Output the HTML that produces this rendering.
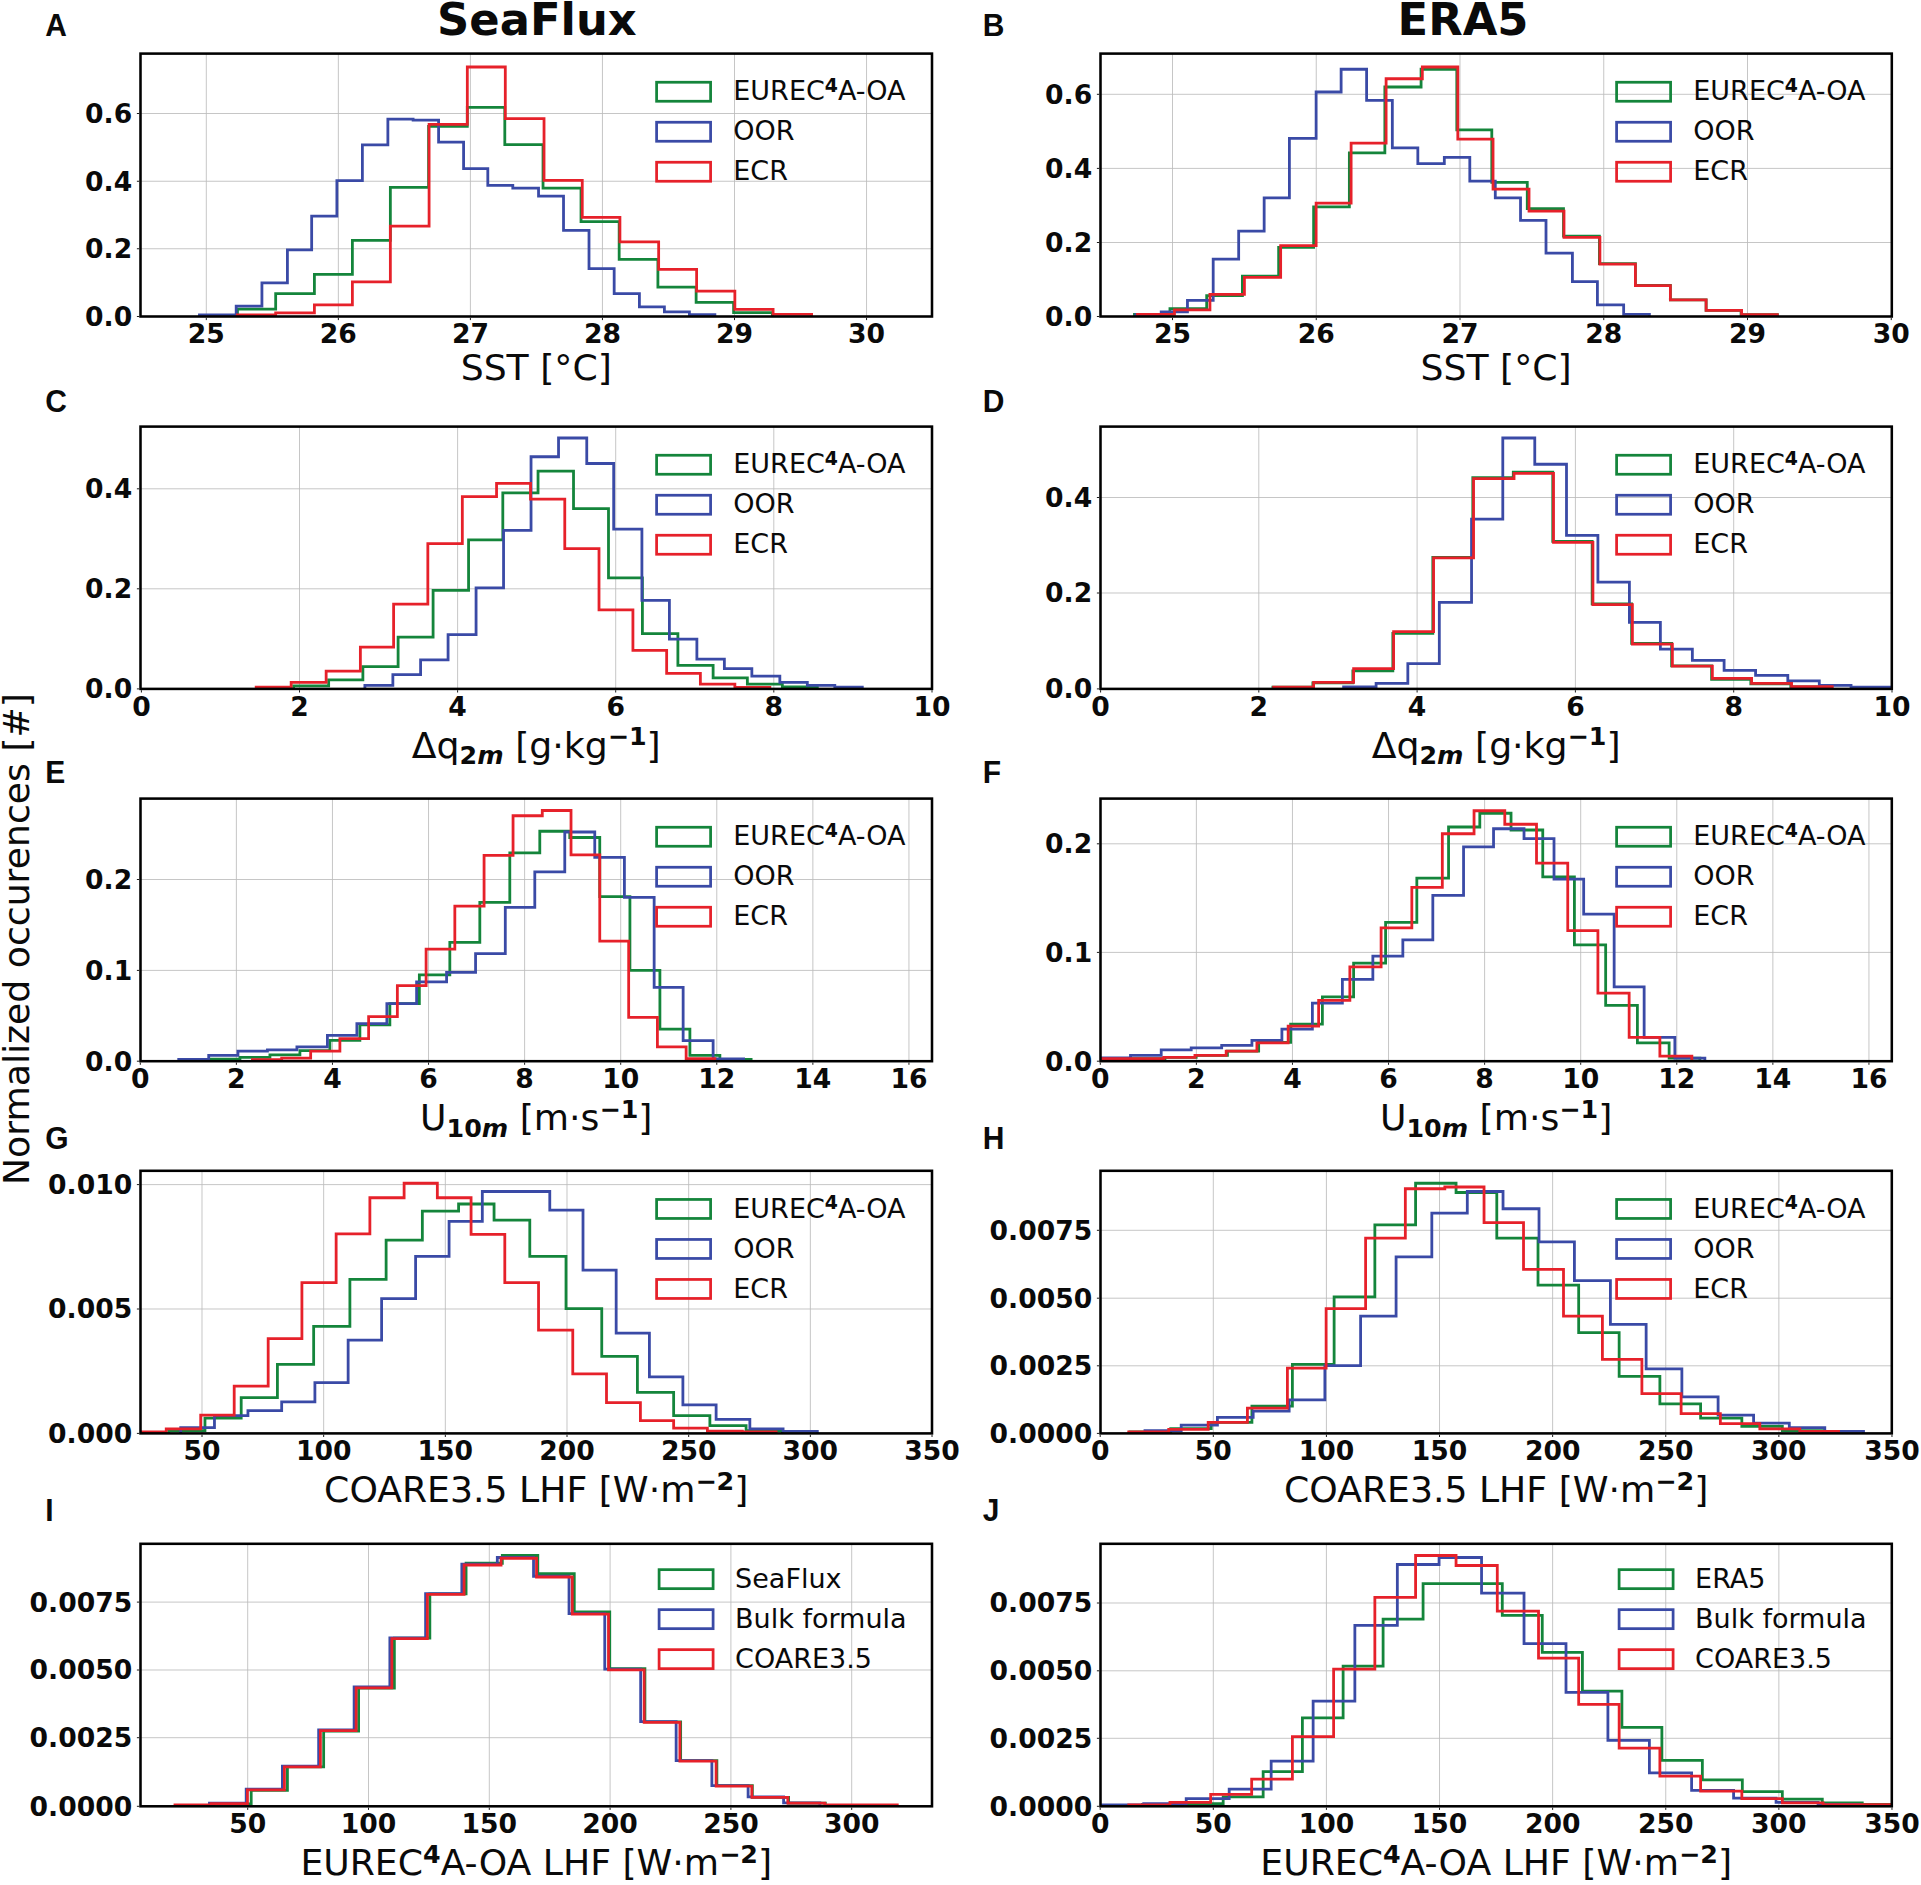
<!DOCTYPE html>
<html lang="en"><head><meta charset="utf-8"><title>Histograms of SST, humidity, wind and LHF: SeaFlux vs ERA5</title>
<style>
html,body{margin:0;padding:0;background:#fff;}
body{width:1921px;height:1885px;overflow:hidden;}
svg{display:block;}
.tk{font-family:"DejaVu Sans","Liberation Sans",sans-serif;font-weight:bold;font-size:26.6px;fill:#0a0a0a;}
.lg{font-family:"DejaVu Sans","Liberation Sans",sans-serif;font-size:27px;fill:#0a0a0a;}
.xl{font-family:"DejaVu Sans","Liberation Sans",sans-serif;font-size:36.2px;fill:#0a0a0a;}
.tt{font-family:"DejaVu Sans","Liberation Sans",sans-serif;font-weight:bold;font-size:44.8px;fill:#0a0a0a;}
.pl{font-family:"Liberation Sans",sans-serif;font-weight:bold;font-size:30px;fill:#0a0a0a;}
.sb{font-weight:bold;font-size:70%;}
.sbi{font-weight:bold;font-style:italic;font-size:70%;}
.gr{stroke:#bcbcbc;stroke-width:0.85;fill:none;}
.tm{stroke:#1a1a1a;stroke-width:1;fill:none;}
.sp{stroke:#000;stroke-width:2.55;fill:none;}
.h{fill:none;stroke-width:2.8;stroke-linejoin:miter;}
</style></head><body>
<svg width="1921" height="1885" viewBox="0 0 1921 1885">
<rect x="0" y="0" width="1921" height="1885" fill="#ffffff"/>
<g id="panel-A">
<clipPath id="cA"><rect x="140.5" y="53.6" width="791.5" height="262.9"/></clipPath>
<path class="gr" d="M206.3 53.6V316.5M338.35 53.6V316.5M470.4 53.6V316.5M602.45 53.6V316.5M734.5 53.6V316.5M866.55 53.6V316.5M140.5 248.75H932M140.5 181.25H932M140.5 113.5H932"/>
<g clip-path="url(#cA)">
<path class="h" stroke="#14853b" d="M237.44 316.5V309.11H275.67V293.62H314.4V274.38H352.38V240.4H390.36V187.43H428.59V126.46H467.32V107.47H504.8V144.7H543.03V188.18H581.02V221.66H619.17V259.39H657.9V287.12H696.13V302.37H733.61V312.61H772.34V316.5"/>
<path class="h" stroke="#3a4aa6" d="M199.46 316.5V314.86H236.19V306.11H261.93V282.88H287.42V249.89H311.66V216.16H336.89V180.68H362.38V144.95H387.87V119.21H413.1V120.21H438.59V142.2H463.58V168.69H487.81V185.43H512.8V188.18H538.54V196.17H563.52V230.4H589.01V268.63H614.17V293.62H639.41V306.86H664.4V311.86H689.39V314.61H714.87V316.5"/>
<path class="h" stroke="#e6212a" d="M237.44 316.5V314.86H275.67V312.86H314.4V304.86H352.38V281.88H390.36V226.16H429.09V124.46H467.32V66.99H505.3V118.71H544.03V180.43H582.26V217.41H619.92V241.9H658.65V269.38H696.63V291.12H734.86V309.36H773.09V314.36H811.57V316.5"/>
</g>
<rect class="sp" x="140.5" y="53.6" width="791.5" height="262.9"/>
<path class="tm" d="M206.3 317.8v2.3M338.35 317.8v2.3M470.4 317.8v2.3M602.45 317.8v2.3M734.5 317.8v2.3M866.55 317.8v2.3M139.2 316.5h-2.3M139.2 248.75h-2.3M139.2 181.25h-2.3M139.2 113.5h-2.3"/>
<text class="tk" text-anchor="middle" x="206.3" y="343.3">25</text>
<text class="tk" text-anchor="middle" x="338.35" y="343.3">26</text>
<text class="tk" text-anchor="middle" x="470.4" y="343.3">27</text>
<text class="tk" text-anchor="middle" x="602.45" y="343.3">28</text>
<text class="tk" text-anchor="middle" x="734.5" y="343.3">29</text>
<text class="tk" text-anchor="middle" x="866.55" y="343.3">30</text>
<text class="tk" text-anchor="end" x="132.2" y="325.9">0.0</text>
<text class="tk" text-anchor="end" x="132.2" y="258.15">0.2</text>
<text class="tk" text-anchor="end" x="132.2" y="190.65">0.4</text>
<text class="tk" text-anchor="end" x="132.2" y="122.9">0.6</text>
<text class="xl" text-anchor="middle" x="536.25" y="379.5">SST [°C]</text>
<rect x="656.6" y="82.25" width="54" height="19" fill="none" stroke="#14853b" stroke-width="2.75"/>
<text class="lg" x="733.3" y="100.3">EUREC<tspan class="sb" dy="-8.5">4</tspan><tspan dy="8.5">A-OA</tspan></text>
<rect x="656.6" y="122.25" width="54" height="19" fill="none" stroke="#3a4aa6" stroke-width="2.75"/>
<text class="lg" x="733.3" y="140.3">OOR</text>
<rect x="656.6" y="162.25" width="54" height="19" fill="none" stroke="#e6212a" stroke-width="2.75"/>
<text class="lg" x="733.3" y="180.3">ECR</text>
<text class="pl" transform="translate(45.3 35.8) scale(1 1.035)">A</text>
</g>
<g id="panel-B">
<clipPath id="cB"><rect x="1100.5" y="53.6" width="791.3" height="262.9"/></clipPath>
<path class="gr" d="M1172.5 53.6V316.5M1316.25 53.6V316.5M1460 53.6V316.5M1603.75 53.6V316.5M1747.5 53.6V316.5M1100.5 242.5H1891.8M1100.5 168.4H1891.8M1100.5 94.3H1891.8"/>
<g clip-path="url(#cB)">
<path class="h" stroke="#14853b" d="M1134.48 316.5V314.36H1169.96V308.61H1206.69V295.62H1242.42V276.13H1278.65V247.39H1313.63V206.92H1349.36V152.94H1384.85V86.98H1421.08V69.24H1456.81V129.96H1491.79V182.43H1527.27V208.66H1563.5V236.15H1599.41V263.64H1635.39V285.37H1670.37V299.87H1706.11V310.36H1741.09V314.61H1777.32V316.5"/>
<path class="h" stroke="#3a4aa6" d="M1135.73 316.5V314.61H1161.21V311.86H1187.45V300.37H1213.19V259.14H1238.67V231.15H1264.16V197.92H1289.4V138.45H1316.13V91.98H1341.12V69.24H1366.61V100.47H1392.34V147.95H1417.83V163.69H1444.32V157.44H1469.8V181.18H1495.29V197.92H1520.53V220.41H1546.01V253.14H1572.43V281.63H1597.41V304.86H1623.65V314.36H1649.39V316.5"/>
<path class="h" stroke="#e6212a" d="M1137.48 316.5V314.36H1174.46V309.86H1209.94V294.37H1244.42V277.38H1280.65V245.65H1316.13V203.17H1351.11V143.2H1386.1V78.73H1422.33V66.99H1457.81V139.2H1493.04V189.17H1529.02V211.16H1564V237.4H1599.91V264.14H1635.39V285.62H1670.37V299.87H1706.11V310.36H1741.59V314.61H1777.32V316.5"/>
</g>
<rect class="sp" x="1100.5" y="53.6" width="791.3" height="262.9"/>
<path class="tm" d="M1172.5 317.8v2.3M1316.25 317.8v2.3M1460 317.8v2.3M1603.75 317.8v2.3M1747.5 317.8v2.3M1891.25 317.8v2.3M1099.2 316.5h-2.3M1099.2 242.5h-2.3M1099.2 168.4h-2.3M1099.2 94.3h-2.3"/>
<text class="tk" text-anchor="middle" x="1172.5" y="343.3">25</text>
<text class="tk" text-anchor="middle" x="1316.25" y="343.3">26</text>
<text class="tk" text-anchor="middle" x="1460" y="343.3">27</text>
<text class="tk" text-anchor="middle" x="1603.75" y="343.3">28</text>
<text class="tk" text-anchor="middle" x="1747.5" y="343.3">29</text>
<text class="tk" text-anchor="middle" x="1891.25" y="343.3">30</text>
<text class="tk" text-anchor="end" x="1092.2" y="325.9">0.0</text>
<text class="tk" text-anchor="end" x="1092.2" y="251.9">0.2</text>
<text class="tk" text-anchor="end" x="1092.2" y="177.8">0.4</text>
<text class="tk" text-anchor="end" x="1092.2" y="103.7">0.6</text>
<text class="xl" text-anchor="middle" x="1496.15" y="379.5">SST [°C]</text>
<rect x="1616.6" y="82.25" width="54" height="19" fill="none" stroke="#14853b" stroke-width="2.75"/>
<text class="lg" x="1693.3" y="100.3">EUREC<tspan class="sb" dy="-8.5">4</tspan><tspan dy="8.5">A-OA</tspan></text>
<rect x="1616.6" y="122.25" width="54" height="19" fill="none" stroke="#3a4aa6" stroke-width="2.75"/>
<text class="lg" x="1693.3" y="140.3">OOR</text>
<rect x="1616.6" y="162.25" width="54" height="19" fill="none" stroke="#e6212a" stroke-width="2.75"/>
<text class="lg" x="1693.3" y="180.3">ECR</text>
<text class="pl" transform="translate(982.7 35.8) scale(1 1.035)">B</text>
</g>
<g id="panel-C">
<clipPath id="cC"><rect x="140.5" y="426.6" width="791.5" height="262.3"/></clipPath>
<path class="gr" d="M299.5 426.6V688.9M457.6 426.6V688.9M615.7 426.6V688.9M773.8 426.6V688.9M140.5 588.8H932M140.5 488.8H932"/>
<g clip-path="url(#cC)">
<path class="h" stroke="#14853b" d="M293.66 688.9V685.86H328.65V679.86H362.88V666.62H398.11V637.14H433.09V590.41H468.57V539.94H502.81V492.96H538.04V471.22H573.52V508.7H608.5V577.92H642.41V633.64H677.89V665.37H713.12V677.86H747.36V684.11H782.34V686.86H817.32V688.9"/>
<path class="h" stroke="#3a4aa6" d="M364.88 688.9V685.36H392.86V674.62H420.6V659.87H448.08V634.64H476.07V587.91H503.56V530.44H531.04V456.73H558.53V437.99H586.76V463.48H613.68V529.19H641.91V600.4H669.4V639.13H696.88V659.12H724.37V668.62H751.85V676.12H779.84V682.36H807.32V685.36H834.81V687.11H862.3V688.9"/>
<path class="h" stroke="#e6212a" d="M256.18 688.9V687.11H291.17V682.36H326.15V671.12H360.38V647.13H393.61V604.15H427.84V543.68H462.33V496.71H496.56V483.47H530.54V499.21H564.77V548.68H599.01V609.9H632.92V650.38H666.65V673.37H700.38V684.11H734.86V687.36H769.84V688.9"/>
</g>
<rect class="sp" x="140.5" y="426.6" width="791.5" height="262.3"/>
<path class="tm" d="M141.4 690.2v2.3M299.5 690.2v2.3M457.6 690.2v2.3M615.7 690.2v2.3M773.8 690.2v2.3M932 690.2v2.3M139.2 688.9h-2.3M139.2 588.8h-2.3M139.2 488.8h-2.3"/>
<text class="tk" text-anchor="middle" x="141.4" y="715.7">0</text>
<text class="tk" text-anchor="middle" x="299.5" y="715.7">2</text>
<text class="tk" text-anchor="middle" x="457.6" y="715.7">4</text>
<text class="tk" text-anchor="middle" x="615.7" y="715.7">6</text>
<text class="tk" text-anchor="middle" x="773.8" y="715.7">8</text>
<text class="tk" text-anchor="middle" x="932" y="715.7">10</text>
<text class="tk" text-anchor="end" x="132.2" y="698.3">0.0</text>
<text class="tk" text-anchor="end" x="132.2" y="598.2">0.2</text>
<text class="tk" text-anchor="end" x="132.2" y="498.2">0.4</text>
<text class="xl" text-anchor="middle" x="536.25" y="757.7">Δq<tspan class="sb" dy="6.5">2</tspan><tspan class="sbi">m</tspan><tspan dy="-6.5"> [g·kg</tspan><tspan class="sb" dy="-12.5">−1</tspan><tspan dy="12.5">]</tspan></text>
<rect x="656.6" y="455.25" width="54" height="19" fill="none" stroke="#14853b" stroke-width="2.75"/>
<text class="lg" x="733.3" y="473.3">EUREC<tspan class="sb" dy="-8.5">4</tspan><tspan dy="8.5">A-OA</tspan></text>
<rect x="656.6" y="495.25" width="54" height="19" fill="none" stroke="#3a4aa6" stroke-width="2.75"/>
<text class="lg" x="733.3" y="513.3">OOR</text>
<rect x="656.6" y="535.25" width="54" height="19" fill="none" stroke="#e6212a" stroke-width="2.75"/>
<text class="lg" x="733.3" y="553.3">ECR</text>
<text class="pl" transform="translate(45.3 412.3) scale(1 1.035)">C</text>
</g>
<g id="panel-D">
<clipPath id="cD"><rect x="1100.5" y="426.6" width="791.3" height="262.3"/></clipPath>
<path class="gr" d="M1258.8 426.6V688.9M1417.1 426.6V688.9M1575.4 426.6V688.9M1733.7 426.6V688.9M1100.5 593H1891.8M1100.5 497.5H1891.8"/>
<g clip-path="url(#cD)">
<path class="h" stroke="#14853b" d="M1272.9 688.9V687.11H1312.88V682.86H1352.86V670.87H1392.84V633.39H1432.82V557.43H1472.8V477.72H1513.28V472.22H1552.76V541.44H1592.17V603.9H1631.64V643.38H1671.62V665.87H1711.6V679.36H1750.83V683.86H1790.81V686.86H1831.54V688.9"/>
<path class="h" stroke="#3a4aa6" d="M1343.62 688.9V686.86H1376.1V683.36H1407.83V663.62H1439.32V602.4H1471.55V519.2H1502.79V437.99H1534.77V464.23H1566.5V535.44H1597.91V582.16H1629.4V622.39H1660.38V649.13H1692.36V660.37H1724.1V670.37H1755.58V675.37H1787.81V680.86H1819.3V685.36H1851.03V687.11H1891.76V688.9"/>
<path class="h" stroke="#e6212a" d="M1273.65 688.9V687.11H1313.63V682.36H1353.61V668.62H1393.59V631.64H1433.57V557.93H1473.55V478.72H1514.03V473.47H1553.51V542.44H1592.92V604.65H1632.39V644.13H1672.37V666.12H1712.35V678.36H1751.58V683.36H1791.56V686.61H1832.29V688.9"/>
</g>
<rect class="sp" x="1100.5" y="426.6" width="791.3" height="262.3"/>
<path class="tm" d="M1100.6 690.2v2.3M1258.8 690.2v2.3M1417.1 690.2v2.3M1575.4 690.2v2.3M1733.7 690.2v2.3M1892 690.2v2.3M1099.2 688.9h-2.3M1099.2 593h-2.3M1099.2 497.5h-2.3"/>
<text class="tk" text-anchor="middle" x="1100.6" y="715.7">0</text>
<text class="tk" text-anchor="middle" x="1258.8" y="715.7">2</text>
<text class="tk" text-anchor="middle" x="1417.1" y="715.7">4</text>
<text class="tk" text-anchor="middle" x="1575.4" y="715.7">6</text>
<text class="tk" text-anchor="middle" x="1733.7" y="715.7">8</text>
<text class="tk" text-anchor="middle" x="1892" y="715.7">10</text>
<text class="tk" text-anchor="end" x="1092.2" y="698.3">0.0</text>
<text class="tk" text-anchor="end" x="1092.2" y="602.4">0.2</text>
<text class="tk" text-anchor="end" x="1092.2" y="506.9">0.4</text>
<text class="xl" text-anchor="middle" x="1496.15" y="757.7">Δq<tspan class="sb" dy="6.5">2</tspan><tspan class="sbi">m</tspan><tspan dy="-6.5"> [g·kg</tspan><tspan class="sb" dy="-12.5">−1</tspan><tspan dy="12.5">]</tspan></text>
<rect x="1616.6" y="455.25" width="54" height="19" fill="none" stroke="#14853b" stroke-width="2.75"/>
<text class="lg" x="1693.3" y="473.3">EUREC<tspan class="sb" dy="-8.5">4</tspan><tspan dy="8.5">A-OA</tspan></text>
<rect x="1616.6" y="495.25" width="54" height="19" fill="none" stroke="#3a4aa6" stroke-width="2.75"/>
<text class="lg" x="1693.3" y="513.3">OOR</text>
<rect x="1616.6" y="535.25" width="54" height="19" fill="none" stroke="#e6212a" stroke-width="2.75"/>
<text class="lg" x="1693.3" y="553.3">ECR</text>
<text class="pl" transform="translate(982.7 412.3) scale(1 1.035)">D</text>
</g>
<g id="panel-E">
<clipPath id="cE"><rect x="140.5" y="798.6" width="791.5" height="262.6"/></clipPath>
<path class="gr" d="M236.38 798.6V1061.2M332.46 798.6V1061.2M428.54 798.6V1061.2M524.62 798.6V1061.2M620.7 798.6V1061.2M716.78 798.6V1061.2M812.86 798.6V1061.2M908.94 798.6V1061.2M140.5 970.4H932M140.5 879.5H932"/>
<g clip-path="url(#cE)">
<path class="h" stroke="#14853b" d="M209.96 1061.2V1059.11H239.94V1057.36H269.93V1054.86H299.91V1050.61H329.9V1040.37H359.88V1024.88H389.86V1003.64H419.35V974.9H449.83V942.42H479.82V902.44H509.8V852.97H539.79V831.23H569.77V837.48H599.76V896.69H629.92V970.41H659.9V1029.13H689.89V1055.36H719.87V1059.36H751.1V1061.2"/>
<path class="h" stroke="#3a4aa6" d="M178.72 1061.2V1059.36H208.71V1055.36H237.94V1051.11H267.43V1049.86H296.91V1046.87H327.4V1035.37H356.88V1023.63H386.87V1003.64H416.6V981.9H446.59V972.4H475.57V953.66H505.3V907.44H534.79V871.96H564.77V831.98H594.76V857.46H624.42V897.44H654.15V987.4H683.14V1040.62H713.12V1058.86H743.61V1061.2"/>
<path class="h" stroke="#e6212a" d="M252.44 1061.2V1059.61H281.67V1058.11H310.66V1051.11H339.89V1038.62H368.63V1016.63H397.36V985.65H426.1V949.17H454.83V906.19H484.07V855.47H513.05V815.74H542.29V810.49H571.02V854.97H599.76V941.17H628.67V1017.38H657.4V1046.87H686.14V1058.61H714.87V1061.2"/>
</g>
<rect class="sp" x="140.5" y="798.6" width="791.5" height="262.6"/>
<path class="tm" d="M140.3 1062.5v2.3M236.38 1062.5v2.3M332.46 1062.5v2.3M428.54 1062.5v2.3M524.62 1062.5v2.3M620.7 1062.5v2.3M716.78 1062.5v2.3M812.86 1062.5v2.3M908.94 1062.5v2.3M139.2 1061.2h-2.3M139.2 970.4h-2.3M139.2 879.5h-2.3"/>
<text class="tk" text-anchor="middle" x="140.3" y="1088">0</text>
<text class="tk" text-anchor="middle" x="236.38" y="1088">2</text>
<text class="tk" text-anchor="middle" x="332.46" y="1088">4</text>
<text class="tk" text-anchor="middle" x="428.54" y="1088">6</text>
<text class="tk" text-anchor="middle" x="524.62" y="1088">8</text>
<text class="tk" text-anchor="middle" x="620.7" y="1088">10</text>
<text class="tk" text-anchor="middle" x="716.78" y="1088">12</text>
<text class="tk" text-anchor="middle" x="812.86" y="1088">14</text>
<text class="tk" text-anchor="middle" x="908.94" y="1088">16</text>
<text class="tk" text-anchor="end" x="132.2" y="1070.6">0.0</text>
<text class="tk" text-anchor="end" x="132.2" y="979.8">0.1</text>
<text class="tk" text-anchor="end" x="132.2" y="888.9">0.2</text>
<text class="xl" text-anchor="middle" x="536.25" y="1130">U<tspan class="sb" dy="6.5">10</tspan><tspan class="sbi">m</tspan><tspan dy="-6.5"> [m·s</tspan><tspan class="sb" dy="-12.5">−1</tspan><tspan dy="12.5">]</tspan></text>
<rect x="656.6" y="827.25" width="54" height="19" fill="none" stroke="#14853b" stroke-width="2.75"/>
<text class="lg" x="733.3" y="845.3">EUREC<tspan class="sb" dy="-8.5">4</tspan><tspan dy="8.5">A-OA</tspan></text>
<rect x="656.6" y="867.25" width="54" height="19" fill="none" stroke="#3a4aa6" stroke-width="2.75"/>
<text class="lg" x="733.3" y="885.3">OOR</text>
<rect x="656.6" y="907.25" width="54" height="19" fill="none" stroke="#e6212a" stroke-width="2.75"/>
<text class="lg" x="733.3" y="925.3">ECR</text>
<text class="pl" transform="translate(45.3 782.8) scale(1 1.035)">E</text>
</g>
<g id="panel-F">
<clipPath id="cF"><rect x="1100.5" y="798.6" width="791.3" height="262.6"/></clipPath>
<path class="gr" d="M1196.38 798.6V1061.2M1292.46 798.6V1061.2M1388.54 798.6V1061.2M1484.62 798.6V1061.2M1580.7 798.6V1061.2M1676.78 798.6V1061.2M1772.86 798.6V1061.2M1868.94 798.6V1061.2M1100.5 952.4H1891.8M1100.5 843.8H1891.8"/>
<g clip-path="url(#cF)">
<path class="h" stroke="#14853b" d="M1132.48 1061.2V1058.61H1164.96V1057.36H1196.19V1055.36H1227.43V1051.11H1258.66V1042.37H1290.65V1024.13H1322.38V996.89H1353.61V963.16H1385.6V922.43H1416.83V878.2H1448.56V826.98H1479.8V813.24H1511.03V829.98H1542.76V876.95H1574.42V944.92H1605.66V1005.39H1637.39V1042.87H1669.13V1058.11H1699.86V1061.2"/>
<path class="h" stroke="#3a4aa6" d="M1099.99 1061.2V1057.86H1130.48V1055.36H1161.21V1049.86H1191.2V1047.87H1221.68V1045.37H1251.92V1040.37H1281.9V1029.13H1312.38V1003.14H1342.37V979.4H1372.85V956.16H1402.84V939.92H1432.82V895.45H1463.56V846.97H1493.54V828.73H1524.02V838.72H1554.01V879.2H1583.67V914.19H1614.15V986.9H1644.14V1037.37H1674.87V1058.11H1704.86V1061.2"/>
<path class="h" stroke="#e6212a" d="M1099.99 1061.2V1058.61H1163.71V1057.36H1194.95V1055.36H1226.18V1051.11H1256.91V1042.87H1288.15V1026.13H1318.63V1000.39H1349.86V966.91H1381.1V927.93H1411.83V887.45H1442.32V833.73H1474.05V810.74H1504.78V824.23H1536.52V863.21H1567.75V930.68H1597.91V993.14H1629.15V1037.37H1659.88V1056.11H1691.86V1061.2"/>
</g>
<rect class="sp" x="1100.5" y="798.6" width="791.3" height="262.6"/>
<path class="tm" d="M1100.3 1062.5v2.3M1196.38 1062.5v2.3M1292.46 1062.5v2.3M1388.54 1062.5v2.3M1484.62 1062.5v2.3M1580.7 1062.5v2.3M1676.78 1062.5v2.3M1772.86 1062.5v2.3M1868.94 1062.5v2.3M1099.2 1061.2h-2.3M1099.2 952.4h-2.3M1099.2 843.8h-2.3"/>
<text class="tk" text-anchor="middle" x="1100.3" y="1088">0</text>
<text class="tk" text-anchor="middle" x="1196.38" y="1088">2</text>
<text class="tk" text-anchor="middle" x="1292.46" y="1088">4</text>
<text class="tk" text-anchor="middle" x="1388.54" y="1088">6</text>
<text class="tk" text-anchor="middle" x="1484.62" y="1088">8</text>
<text class="tk" text-anchor="middle" x="1580.7" y="1088">10</text>
<text class="tk" text-anchor="middle" x="1676.78" y="1088">12</text>
<text class="tk" text-anchor="middle" x="1772.86" y="1088">14</text>
<text class="tk" text-anchor="middle" x="1868.94" y="1088">16</text>
<text class="tk" text-anchor="end" x="1092.2" y="1070.6">0.0</text>
<text class="tk" text-anchor="end" x="1092.2" y="961.8">0.1</text>
<text class="tk" text-anchor="end" x="1092.2" y="853.2">0.2</text>
<text class="xl" text-anchor="middle" x="1496.15" y="1130">U<tspan class="sb" dy="6.5">10</tspan><tspan class="sbi">m</tspan><tspan dy="-6.5"> [m·s</tspan><tspan class="sb" dy="-12.5">−1</tspan><tspan dy="12.5">]</tspan></text>
<rect x="1616.6" y="827.25" width="54" height="19" fill="none" stroke="#14853b" stroke-width="2.75"/>
<text class="lg" x="1693.3" y="845.3">EUREC<tspan class="sb" dy="-8.5">4</tspan><tspan dy="8.5">A-OA</tspan></text>
<rect x="1616.6" y="867.25" width="54" height="19" fill="none" stroke="#3a4aa6" stroke-width="2.75"/>
<text class="lg" x="1693.3" y="885.3">OOR</text>
<rect x="1616.6" y="907.25" width="54" height="19" fill="none" stroke="#e6212a" stroke-width="2.75"/>
<text class="lg" x="1693.3" y="925.3">ECR</text>
<text class="pl" transform="translate(982.7 782.8) scale(1 1.035)">F</text>
</g>
<g id="panel-G">
<clipPath id="cG"><rect x="140.5" y="1170.8" width="791.5" height="262.6"/></clipPath>
<path class="gr" d="M202 1170.8V1433.4M323.67 1170.8V1433.4M445.34 1170.8V1433.4M567.01 1170.8V1433.4M688.68 1170.8V1433.4M810.35 1170.8V1433.4M140.5 1309H932M140.5 1184.6H932"/>
<g clip-path="url(#cG)">
<path class="h" stroke="#14853b" d="M168.73 1433.4V1430.61H204.96V1418.12H241.19V1397.63H277.42V1364.39H313.65V1326.41H349.89V1279.44H386.12V1240.21H422.35V1211.22H458.58V1203.98H494.06V1220.22H529.79V1256.45H566.02V1308.67H601.75V1356.4H637.41V1392.38H673.64V1415.62H709.88V1425.61H746.11V1430.61H782.34V1433.4"/>
<path class="h" stroke="#3a4aa6" d="M180.72 1433.4V1427.61H214.46V1415.62H247.94V1410.62H281.67V1401.88H314.9V1382.64H348.14V1340.16H381.62V1298.68H415.6V1256.45H449.08V1221.47H482.32V1191.48H516.05V1191.48H549.78V1210.22H583.01V1270.19H616.17V1333.16H649.41V1376.89H682.89V1404.87H716.12V1419.37H749.85V1428.86H783.09V1431.36H817.32V1433.4"/>
<path class="h" stroke="#e6212a" d="M139.99 1433.4V1431.86H166.23V1428.86H200.71V1415.12H234.2V1386.13H268.18V1338.66H301.91V1282.69H336.14V1233.96H369.88V1197.73H404.11V1183.24H437.34V1197.73H471.07V1234.46H504.8V1282.69H538.54V1330.16H572.77V1373.89H606.5V1402.62H640.41V1420.62H673.64V1428.11H707.38V1431.11H742.36V1431.86H776.09V1433.4"/>
</g>
<rect class="sp" x="140.5" y="1170.8" width="791.5" height="262.6"/>
<path class="tm" d="M202 1434.7v2.3M323.67 1434.7v2.3M445.34 1434.7v2.3M567.01 1434.7v2.3M688.68 1434.7v2.3M810.35 1434.7v2.3M932.02 1434.7v2.3M139.2 1433.4h-2.3M139.2 1309h-2.3M139.2 1184.6h-2.3"/>
<text class="tk" text-anchor="middle" x="202" y="1460.2">50</text>
<text class="tk" text-anchor="middle" x="323.67" y="1460.2">100</text>
<text class="tk" text-anchor="middle" x="445.34" y="1460.2">150</text>
<text class="tk" text-anchor="middle" x="567.01" y="1460.2">200</text>
<text class="tk" text-anchor="middle" x="688.68" y="1460.2">250</text>
<text class="tk" text-anchor="middle" x="810.35" y="1460.2">300</text>
<text class="tk" text-anchor="middle" x="932.02" y="1460.2">350</text>
<text class="tk" text-anchor="end" x="132.2" y="1442.8">0.000</text>
<text class="tk" text-anchor="end" x="132.2" y="1318.4">0.005</text>
<text class="tk" text-anchor="end" x="132.2" y="1194">0.010</text>
<text class="xl" text-anchor="middle" x="536.25" y="1502.2">COARE3.5 LHF [W·m<tspan class="sb" dy="-12.5">−2</tspan><tspan dy="12.5">]</tspan></text>
<rect x="656.6" y="1199.45" width="54" height="19" fill="none" stroke="#14853b" stroke-width="2.75"/>
<text class="lg" x="733.3" y="1217.5">EUREC<tspan class="sb" dy="-8.5">4</tspan><tspan dy="8.5">A-OA</tspan></text>
<rect x="656.6" y="1239.45" width="54" height="19" fill="none" stroke="#3a4aa6" stroke-width="2.75"/>
<text class="lg" x="733.3" y="1257.5">OOR</text>
<rect x="656.6" y="1279.45" width="54" height="19" fill="none" stroke="#e6212a" stroke-width="2.75"/>
<text class="lg" x="733.3" y="1297.5">ECR</text>
<text class="pl" transform="translate(45.3 1148.8) scale(1 1.035)">G</text>
</g>
<g id="panel-H">
<clipPath id="cH"><rect x="1100.5" y="1170.8" width="791.3" height="262.6"/></clipPath>
<path class="gr" d="M1213.31 1170.8V1433.4M1326.42 1170.8V1433.4M1439.53 1170.8V1433.4M1552.64 1170.8V1433.4M1665.75 1170.8V1433.4M1778.86 1170.8V1433.4M1100.5 1365.8H1891.8M1100.5 1298.2H1891.8M1100.5 1230.3H1891.8"/>
<g clip-path="url(#cH)">
<path class="h" stroke="#14853b" d="M1129.98 1433.4V1431.86H1170.71V1428.61H1211.19V1422.36H1251.92V1406.12H1292.39V1364.39H1334.12V1296.93H1374.85V1224.97H1415.58V1183.24H1456.06V1192.48H1496.79V1238.21H1538.02V1285.19H1578.67V1332.66H1619.15V1376.39H1659.88V1403.87H1700.61V1418.12H1741.84V1426.36H1782.32V1430.61H1823.05V1433.4"/>
<path class="h" stroke="#3a4aa6" d="M1144.97 1433.4V1430.61H1181.2V1425.11H1217.43V1417.37H1253.17V1411.12H1289.15V1399.88H1324.88V1365.64H1360.61V1316.17H1396.09V1256.95H1431.82V1213.22H1467.3V1191.48H1503.03V1208.73H1539.02V1241.96H1574.42V1280.69H1610.41V1324.42H1646.14V1368.89H1681.87V1396.88H1718.1V1415.12H1753.58V1423.11H1789.31V1427.61H1824.79V1431.36H1863.52V1433.4"/>
<path class="h" stroke="#e6212a" d="M1128.73 1433.4V1431.86H1168.71V1429.36H1208.19V1422.36H1247.42V1408.12H1287.4V1368.14H1326.13V1308.67H1365.61V1238.21H1405.34V1188.74H1444.82V1186.99H1484.04V1222.72H1523.52V1269.44H1563.5V1316.17H1602.41V1359.4H1641.89V1393.63H1681.12V1413.62H1720.35V1423.61H1759.83V1428.86H1799.81V1431.36H1838.54V1433.4"/>
</g>
<rect class="sp" x="1100.5" y="1170.8" width="791.3" height="262.6"/>
<path class="tm" d="M1100.2 1434.7v2.3M1213.31 1434.7v2.3M1326.42 1434.7v2.3M1439.53 1434.7v2.3M1552.64 1434.7v2.3M1665.75 1434.7v2.3M1778.86 1434.7v2.3M1891.97 1434.7v2.3M1099.2 1433.4h-2.3M1099.2 1365.8h-2.3M1099.2 1298.2h-2.3M1099.2 1230.3h-2.3"/>
<text class="tk" text-anchor="middle" x="1100.2" y="1460.2">0</text>
<text class="tk" text-anchor="middle" x="1213.31" y="1460.2">50</text>
<text class="tk" text-anchor="middle" x="1326.42" y="1460.2">100</text>
<text class="tk" text-anchor="middle" x="1439.53" y="1460.2">150</text>
<text class="tk" text-anchor="middle" x="1552.64" y="1460.2">200</text>
<text class="tk" text-anchor="middle" x="1665.75" y="1460.2">250</text>
<text class="tk" text-anchor="middle" x="1778.86" y="1460.2">300</text>
<text class="tk" text-anchor="middle" x="1891.97" y="1460.2">350</text>
<text class="tk" text-anchor="end" x="1092.2" y="1442.8">0.0000</text>
<text class="tk" text-anchor="end" x="1092.2" y="1375.2">0.0025</text>
<text class="tk" text-anchor="end" x="1092.2" y="1307.6">0.0050</text>
<text class="tk" text-anchor="end" x="1092.2" y="1239.7">0.0075</text>
<text class="xl" text-anchor="middle" x="1496.15" y="1502.2">COARE3.5 LHF [W·m<tspan class="sb" dy="-12.5">−2</tspan><tspan dy="12.5">]</tspan></text>
<rect x="1616.6" y="1199.45" width="54" height="19" fill="none" stroke="#14853b" stroke-width="2.75"/>
<text class="lg" x="1693.3" y="1217.5">EUREC<tspan class="sb" dy="-8.5">4</tspan><tspan dy="8.5">A-OA</tspan></text>
<rect x="1616.6" y="1239.45" width="54" height="19" fill="none" stroke="#3a4aa6" stroke-width="2.75"/>
<text class="lg" x="1693.3" y="1257.5">OOR</text>
<rect x="1616.6" y="1279.45" width="54" height="19" fill="none" stroke="#e6212a" stroke-width="2.75"/>
<text class="lg" x="1693.3" y="1297.5">ECR</text>
<text class="pl" transform="translate(982.7 1148.8) scale(1 1.035)">H</text>
</g>
<g id="panel-I">
<clipPath id="cI"><rect x="140.5" y="1543.8" width="791.5" height="262.5"/></clipPath>
<path class="gr" d="M247.7 1543.8V1806.3M368.5 1543.8V1806.3M489.3 1543.8V1806.3M610.1 1543.8V1806.3M730.9 1543.8V1806.3M851.7 1543.8V1806.3M140.5 1737.7H932M140.5 1670H932M140.5 1602.1H932"/>
<g clip-path="url(#cI)">
<path class="h" stroke="#14853b" d="M213.71 1806.3V1803.86H251.19V1790.37H287.42V1766.88H323.65V1731.15H358.63V1688.17H394.36V1638.2H429.84V1593.97H466.07V1563.24H502.31V1555.49H537.79V1573.73H574.27V1611.96H609.75V1668.68H644.91V1721.9H680.64V1760.63H716.87V1785.62H752.35V1797.36H788.58V1803.11H825.31V1806.3"/>
<path class="h" stroke="#3a4aa6" d="M209.46 1806.3V1803.11H246.19V1789.12H282.42V1766.13H318.65V1729.9H354.13V1686.92H389.86V1637.95H425.6V1593.72H461.83V1564.23H497.31V1557.49H533.54V1576.23H569.02V1613.71H604.75V1669.18H640.66V1721.65H676.14V1760.63H711.87V1785.62H748.11V1796.86H783.59V1802.86H819.82V1806.3"/>
<path class="h" stroke="#e6212a" d="M174.98 1806.3V1804.86H211.21V1803.61H247.44V1789.87H284.42V1766.88H320.4V1730.65H356.13V1687.92H391.86V1638.7H427.35V1594.47H464.08V1564.98H501.06V1558.24H536.54V1576.98H572.27V1614.21H608.5V1669.93H644.16V1722.4H679.89V1761.13H716.12V1786.12H751.85V1797.36H787.83V1803.11H824.82V1804.86H897.28V1806.3"/>
</g>
<rect class="sp" x="140.5" y="1543.8" width="791.5" height="262.5"/>
<path class="tm" d="M247.7 1807.6v2.3M368.5 1807.6v2.3M489.3 1807.6v2.3M610.1 1807.6v2.3M730.9 1807.6v2.3M851.7 1807.6v2.3M139.2 1806.3h-2.3M139.2 1737.7h-2.3M139.2 1670h-2.3M139.2 1602.1h-2.3"/>
<text class="tk" text-anchor="middle" x="247.7" y="1833.1">50</text>
<text class="tk" text-anchor="middle" x="368.5" y="1833.1">100</text>
<text class="tk" text-anchor="middle" x="489.3" y="1833.1">150</text>
<text class="tk" text-anchor="middle" x="610.1" y="1833.1">200</text>
<text class="tk" text-anchor="middle" x="730.9" y="1833.1">250</text>
<text class="tk" text-anchor="middle" x="851.7" y="1833.1">300</text>
<text class="tk" text-anchor="end" x="132.2" y="1815.7">0.0000</text>
<text class="tk" text-anchor="end" x="132.2" y="1747.1">0.0025</text>
<text class="tk" text-anchor="end" x="132.2" y="1679.4">0.0050</text>
<text class="tk" text-anchor="end" x="132.2" y="1611.5">0.0075</text>
<text class="xl" text-anchor="middle" x="536.25" y="1875.1">EUREC<tspan class="sb" dy="-12.5">4</tspan><tspan dy="12.5">A-OA LHF [W·m</tspan><tspan class="sb" dy="-12.5">−2</tspan><tspan dy="12.5">]</tspan></text>
<rect x="659.1" y="1569.65" width="54" height="19" fill="none" stroke="#14853b" stroke-width="2.75"/>
<text class="lg" x="735.1" y="1587.7">SeaFlux</text>
<rect x="659.1" y="1609.65" width="54" height="19" fill="none" stroke="#3a4aa6" stroke-width="2.75"/>
<text class="lg" x="735.1" y="1627.7">Bulk formula</text>
<rect x="659.1" y="1649.65" width="54" height="19" fill="none" stroke="#e6212a" stroke-width="2.75"/>
<text class="lg" x="735.1" y="1667.7">COARE3.5</text>
<text class="pl" transform="translate(45.3 1520.9) scale(1 1.035)">I</text>
</g>
<g id="panel-J">
<clipPath id="cJ"><rect x="1100.5" y="1543.8" width="791.3" height="262.5"/></clipPath>
<path class="gr" d="M1213.31 1543.8V1806.3M1326.42 1543.8V1806.3M1439.53 1543.8V1806.3M1552.64 1543.8V1806.3M1665.75 1543.8V1806.3M1778.86 1543.8V1806.3M1100.5 1738.3H1891.8M1100.5 1670.8H1891.8M1100.5 1603H1891.8"/>
<g clip-path="url(#cJ)">
<path class="h" stroke="#14853b" d="M1142.47 1806.3V1804.36H1182.45V1803.61H1223.18V1796.86H1263.16V1771.63H1302.39V1717.9H1343.12V1666.18H1383.1V1619.21H1423.08V1583.72H1462.31V1583.72H1502.29V1615.46H1542.26V1652.44H1582.42V1691.17H1621.9V1727.4H1661.88V1760.38H1702.36V1779.87H1742.34V1791.62H1782.32V1799.11H1822.3V1802.86H1862.27V1804.36H1891.76V1806.3"/>
<path class="h" stroke="#3a4aa6" d="M1099.99 1806.3V1804.86H1143.72V1803.61H1186.2V1798.61H1229.18V1789.12H1271.16V1761.13H1313.13V1701.16H1354.86V1625.45H1397.34V1564.48H1439.07V1557.49H1481.55V1593.22H1524.02V1643.69H1566V1692.42H1607.91V1740.39H1649.39V1772.88H1691.61V1790.37H1733.59V1798.11H1776.07V1802.36H1818.05V1804.36H1859.78V1806.3"/>
<path class="h" stroke="#e6212a" d="M1128.73 1806.3V1804.86H1169.96V1802.36H1210.69V1794.36H1251.67V1779.12H1292.39V1736.64H1333.62V1669.18H1374.85V1597.47H1415.58V1555.49H1456.06V1565.48H1497.29V1611.21H1538.52V1658.19H1578.67V1704.41H1619.15V1748.14H1659.88V1776.12H1700.61V1791.12H1741.84V1798.61H1782.32V1802.86H1823.05V1804.61H1891.76V1806.3"/>
</g>
<rect class="sp" x="1100.5" y="1543.8" width="791.3" height="262.5"/>
<path class="tm" d="M1100.2 1807.6v2.3M1213.31 1807.6v2.3M1326.42 1807.6v2.3M1439.53 1807.6v2.3M1552.64 1807.6v2.3M1665.75 1807.6v2.3M1778.86 1807.6v2.3M1891.97 1807.6v2.3M1099.2 1806.3h-2.3M1099.2 1738.3h-2.3M1099.2 1670.8h-2.3M1099.2 1603h-2.3"/>
<text class="tk" text-anchor="middle" x="1100.2" y="1833.1">0</text>
<text class="tk" text-anchor="middle" x="1213.31" y="1833.1">50</text>
<text class="tk" text-anchor="middle" x="1326.42" y="1833.1">100</text>
<text class="tk" text-anchor="middle" x="1439.53" y="1833.1">150</text>
<text class="tk" text-anchor="middle" x="1552.64" y="1833.1">200</text>
<text class="tk" text-anchor="middle" x="1665.75" y="1833.1">250</text>
<text class="tk" text-anchor="middle" x="1778.86" y="1833.1">300</text>
<text class="tk" text-anchor="middle" x="1891.97" y="1833.1">350</text>
<text class="tk" text-anchor="end" x="1092.2" y="1815.7">0.0000</text>
<text class="tk" text-anchor="end" x="1092.2" y="1747.7">0.0025</text>
<text class="tk" text-anchor="end" x="1092.2" y="1680.2">0.0050</text>
<text class="tk" text-anchor="end" x="1092.2" y="1612.4">0.0075</text>
<text class="xl" text-anchor="middle" x="1496.15" y="1875.1">EUREC<tspan class="sb" dy="-12.5">4</tspan><tspan dy="12.5">A-OA LHF [W·m</tspan><tspan class="sb" dy="-12.5">−2</tspan><tspan dy="12.5">]</tspan></text>
<rect x="1619.1" y="1569.65" width="54" height="19" fill="none" stroke="#14853b" stroke-width="2.75"/>
<text class="lg" x="1695.1" y="1587.7">ERA5</text>
<rect x="1619.1" y="1609.65" width="54" height="19" fill="none" stroke="#3a4aa6" stroke-width="2.75"/>
<text class="lg" x="1695.1" y="1627.7">Bulk formula</text>
<rect x="1619.1" y="1649.65" width="54" height="19" fill="none" stroke="#e6212a" stroke-width="2.75"/>
<text class="lg" x="1695.1" y="1667.7">COARE3.5</text>
<text class="pl" transform="translate(982.7 1520.9) scale(1 1.035)">J</text>
</g>
<text class="tt" text-anchor="middle" x="536.9" y="35">SeaFlux</text>
<text class="tt" text-anchor="middle" x="1463" y="35">ERA5</text>
<text class="xl" text-anchor="middle" transform="translate(28.8 939) rotate(-90)">Normalized occurences [#]</text>
</svg></body></html>
